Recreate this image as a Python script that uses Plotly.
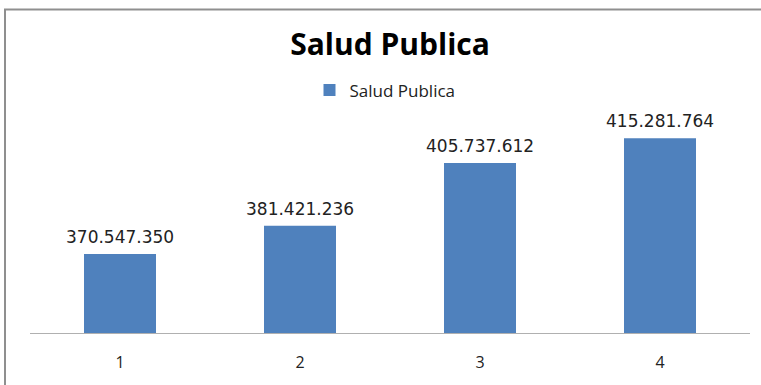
import plotly.graph_objects as go

# Data
categories = ["1", "2", "3", "4"]
values = [370547350, 381421236, 405737612, 415281764]
series_name = "Salud Publica"
chart_title = "Salud Publica"

def fmt_es(v):
    return f"{v:,}".replace(",", ".")

labels = [fmt_es(v) for v in values]

W, H = 761, 385
ML, MR, MT, MB = 30, 11, 126, 52
PW, PH = W - ML - MR, H - MT - MB

def px_x(p):
    return (p - ML) / PW

def px_y(p):
    return (H - MB - p) / PH

bar_color = "#4F81BD"

fig = go.Figure()
fig.add_trace(go.Bar(
    x=categories,
    y=values,
    name=series_name,
    marker=dict(color=bar_color, line=dict(width=0)),
    showlegend=True,
))

# value labels above each bar (category axes take the category index)
annotations = [
    dict(x=i, y=v, xref="x", yref="y", text=t, showarrow=False,
         yanchor="bottom", yshift=5,
         font=dict(family="DejaVu Sans", size=17, color="#222222"))
    for i, (v, t) in enumerate(zip(values, labels))
]

fig.update_layout(
    width=W, height=H,
    margin=dict(l=ML, r=MR, t=MT, b=MB),
    paper_bgcolor="white",
    plot_bgcolor="white",
    bargap=0.6,
    title=dict(
        text=f"<b>{chart_title}</b>",
        x=0.5, xref="paper", xanchor="center",
        y=1 - 44 / H, yref="container", yanchor="middle",
        font=dict(family="Open Sans", size=30, color="#000000"),
    ),
    legend=dict(
        orientation="h",
        x=px_x(385), xanchor="center",
        y=px_y(90.5), yanchor="middle",
        font=dict(family="Open Sans", size=17, color="#222222"),
        bgcolor="rgba(0,0,0,0)",
    ),
    xaxis=dict(
        type="category",
        range=[-0.5, len(categories) - 0.5],
        showline=True, linecolor="#b0b0b0", linewidth=1,
        ticks="", showgrid=False,
        tickfont=dict(family="Open Sans", size=16, color="#222222"),
        ticklabelstandoff=15,
    ),
    yaxis=dict(
        range=[340e6, 420e6],
        visible=False, showgrid=False, zeroline=False,
    ),
    annotations=annotations,
    shapes=[dict(
        type="rect", xref="paper", yref="paper",
        x0=px_x(5), x1=px_x(775), y0=px_y(395), y1=px_y(9.5),
        line=dict(color="#8f8f8f", width=2),
        fillcolor="rgba(0,0,0,0)", layer="below",
    )],
)

fig.write_html("out.html")
